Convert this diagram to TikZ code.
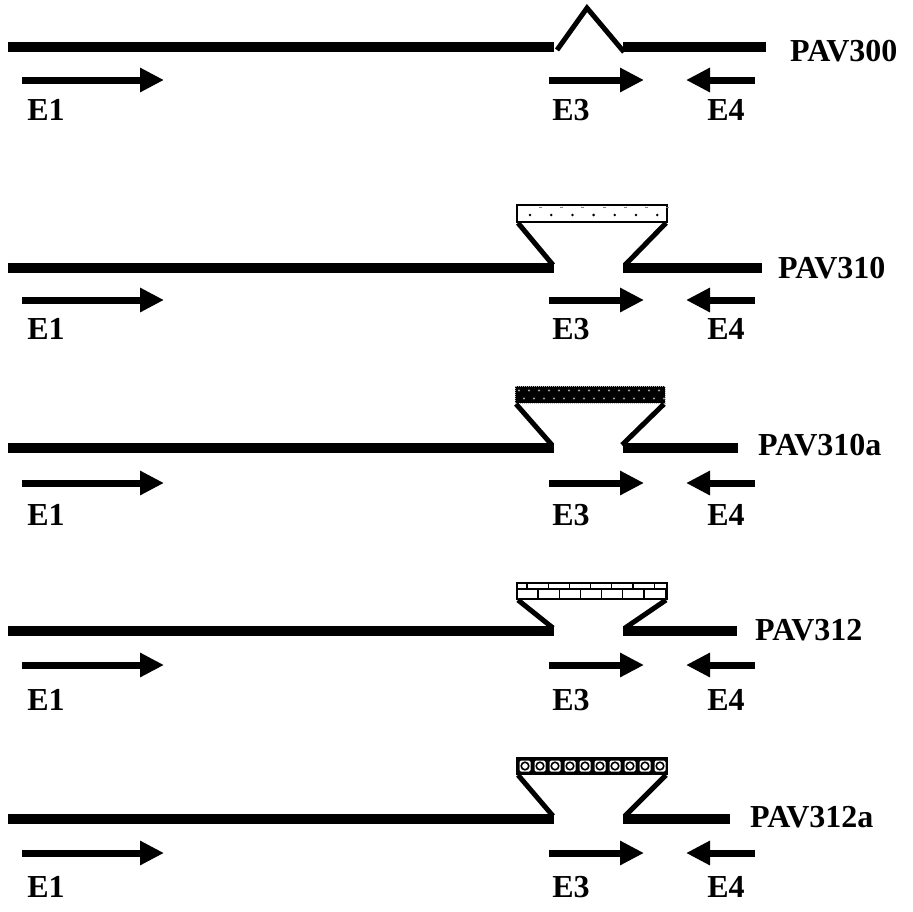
\documentclass[tikz,border=0pt]{standalone}
\usepackage{fontspec}
\setmainfont{Liberation Serif}
\usetikzlibrary{arrows.meta}
\tikzset{
  dna/.style={line width=10.5pt},
  leg/.style={line width=5pt},
  primer/.style={line width=7pt,-{Triangle[length=24pt,width=23pt]}},
  lbl/.style={font=\fontsize{32}{32}\selectfont\bfseries, inner sep=0pt},
  ins/.style={draw, line width=1.5pt}
}
\begin{document}
\begin{tikzpicture}[x=1pt,y=-1pt]
\useasboundingbox (0,0) rectangle (913,911);

% rows: name / line y / arrow y / label y / right end / plasmid label / label x / label y
\foreach \n/\L/\A/\T/\R/\lab/\lx/\ly in {
  a/47/80/110/766/PAV300/790/51,
  b/268/300/329/762/PAV310/778/268,
  c/448/483/515/738/PAV310a/758/445,
  d/631/665/700/737/PAV312/755/630,
  e/819/853/887/730/PAV312a/750/817}{
  \coordinate (\n L1) at (8,\L);
  \coordinate (\n L2) at (554,\L);
  \coordinate (\n R1) at (623,\L);
  \coordinate (\n R2) at (\R,\L);
  \draw[dna] (\n L1) -- (\n L2);
  \draw[dna] (\n R1) -- (\n R2);
  \coordinate (\n E1s) at (22,\A);  \coordinate (\n E1t) at (164,\A);
  \coordinate (\n E3s) at (549,\A); \coordinate (\n E3t) at (644,\A);
  \coordinate (\n E4s) at (755,\A); \coordinate (\n E4t) at (686,\A);
  \draw[primer] (\n E1s) -- (\n E1t);
  \draw[primer] (\n E3s) -- (\n E3t);
  \draw[primer] (\n E4s) -- (\n E4t);
  \node[lbl] (\n e1) at (46,\T) {E1};
  \node[lbl] (\n e3) at (571,\T) {E3};
  \node[lbl] (\n e4) at (726,\T) {E4};
  \node[lbl, anchor=west] (\n lab) at (\lx,\ly) {\lab};
}

% PAV300 deletion caret
\coordinate (apk) at (587,8);
\draw[leg] (557,50) -- (apk) -- (624,52);

% PAV310: dotted box
\draw[ins, fill=white] (517,205) rectangle (667,222);
\foreach \i in {0,...,6} {
  \fill (530+\i*21.2,215) circle (1.4pt);
  \fill[gray] (539+\i*21.2,206.5) rectangle ++(3,1.5);
}
\draw[leg] (518,223) -- (553,265);
\draw[leg] (666,223) -- (625,265);

% PAV310a: dark stippled box
\fill[black] (515,386) rectangle (665,403);
\foreach \i in {0,...,14} {
  \fill[gray!70] (519+\i*10,390.5) circle (1.1pt);
  \fill[gray!70] (524+\i*10,398.5) circle (1.1pt);
}
\draw[gray!60, line width=1pt, densely dotted] (515,386) rectangle (665,403);
\draw[leg] (516,404) -- (552,445);
\draw[leg] (664,404) -- (622,445);

% PAV312: bricks
\draw[ins, fill=white] (517,583) rectangle (667,599);
\draw[line width=1.3pt] (517,589) -- (667,589);
\foreach \i in {0,...,6} {
  \draw[line width=1.3pt] (527+\i*21.2,583) -- (527+\i*21.2,589);
  \draw[line width=1.3pt] (538+\i*21.2,589) -- (538+\i*21.2,599);
}
\draw[leg] (518,600) -- (553,628);
\draw[leg] (666,600) -- (625,628);

% PAV312a: beads
\fill[black] (517,758) rectangle (667,774);
\foreach \i in {0,...,9} {
  \fill[white, rounded corners=1.5pt] (519.5+\i*15,760.5) rectangle ++(11,11);
  \draw[black, line width=1.6pt] (525+\i*15,766) circle (3.8pt);
}
\draw[ins] (517,758) rectangle (667,774);
\draw[leg] (518,775) -- (553,816);
\draw[leg] (666,775) -- (625,816);
\end{tikzpicture}
\end{document}
